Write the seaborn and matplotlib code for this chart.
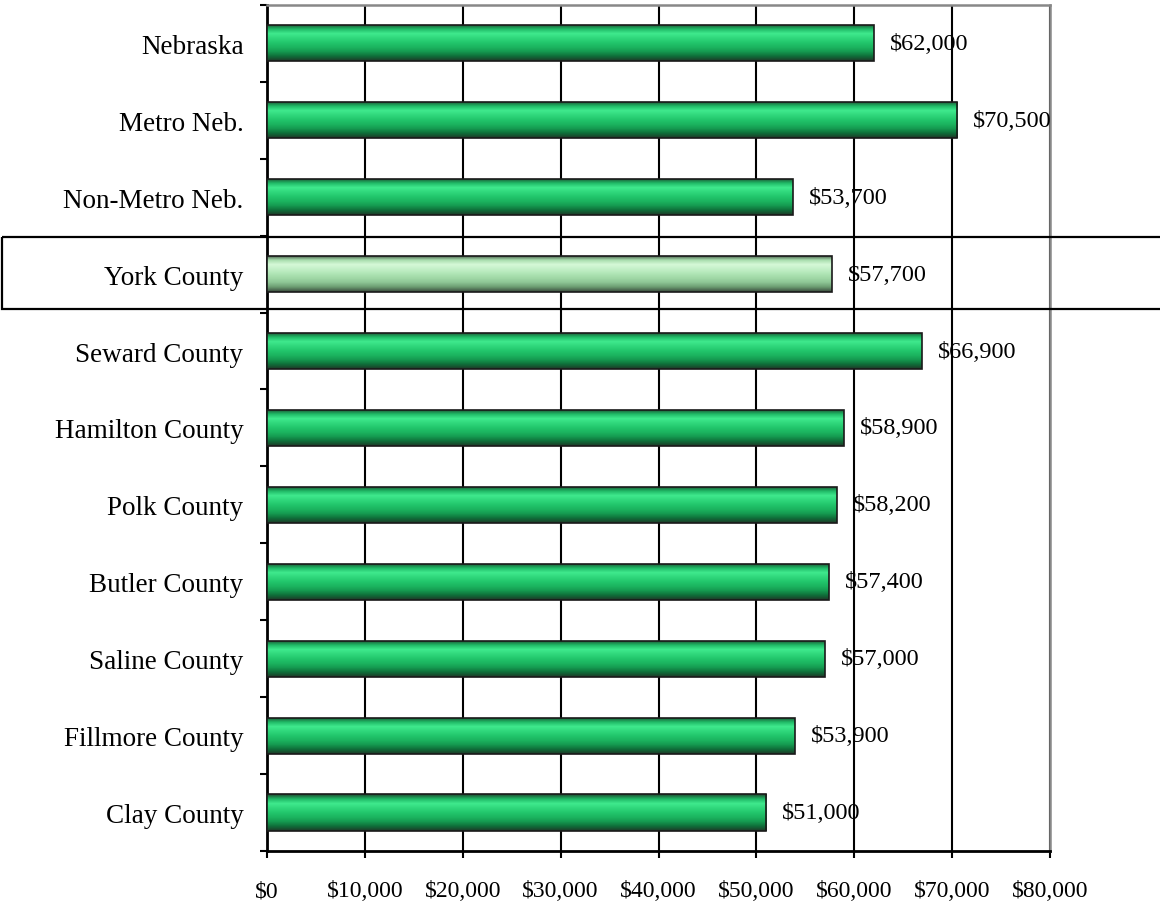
import numpy as np
import pandas as pd
import matplotlib
matplotlib.use("Agg")
import matplotlib.pyplot as plt
import matplotlib.transforms as mtransforms
from matplotlib.colors import LinearSegmentedColormap
from matplotlib.patches import Rectangle
import seaborn as sns

# -------------------------------
# Data
# -------------------------------
regions = ["Nebraska", "Metro Neb.", "Non-Metro Neb.", "York County",
           "Seward County", "Hamilton County", "Polk County", "Butler County",
           "Saline County", "Fillmore County", "Clay County"]
income = [62000, 70500, 53700, 57700, 66900, 58900, 58200, 57400,
          57000, 53900, 51000]
highlight = "York County"
x_ticks = [0, 10000, 20000, 30000, 40000, 50000, 60000, 70000, 80000]

df = pd.DataFrame({"Region": regions, "Income": income})

# -------------------------------
# Style
# -------------------------------
sns.set_style("white")
plt.rcParams["font.family"] = ["Liberation Serif", "DejaVu Serif"]
plt.rcParams["text.color"] = "black"
plt.rcParams["xtick.color"] = "black"
plt.rcParams["ytick.color"] = "black"

fig = plt.figure(figsize=(11.6, 9.04), dpi=100)
ax = fig.add_axes([0.2302, 0.0575, 0.675, 0.936])

sns.barplot(data=df, x="Income", y="Region", orient="h", width=0.47,
            color="#1fc068", ax=ax, zorder=2)

ax.set_xlim(0, 80000)
ax.set_ylim(len(regions) - 0.5, -0.5)

# glossy gradient for each bar
green = LinearSegmentedColormap.from_list(
    "g", ["#1e4a30", "#1fb865", "#40ea8e", "#30d87c", "#22c66c",
          "#1cb560", "#159a50", "#0f6f3a", "#1e3a28"])
light = LinearSegmentedColormap.from_list(
    "l", ["#3a4a3c", "#a6dcac", "#d6f9d8", "#c4f0c8", "#b0e6b6",
          "#a0d8a6", "#8cc494", "#6a9a70", "#3a4a3c"])
grad = np.linspace(0, 1, 64).reshape(-1, 1)
for patch, name in zip(ax.patches, regions):
    x0, y0 = patch.get_x(), patch.get_y()
    w, h = patch.get_width(), patch.get_height()
    cmap = light if name == highlight else green
    im = ax.imshow(grad, cmap=cmap, aspect="auto", extent=(x0, x0 + w, y0 + h, y0),
                   origin="upper", zorder=3, interpolation="bilinear")
    im.set_clip_path(patch)
    patch.set_facecolor("none")
    patch.set_edgecolor("#1a1a1a")
    patch.set_linewidth(1.2)
    patch.set_zorder(4)

ax.set_xlim(0, 80000)
ax.set_ylim(len(regions) - 0.5, -0.5)

# value labels
for i, v in enumerate(income):
    ax.text(v + 1650, i, f"${v:,}", va="center", ha="left", fontsize=17.5,
            color="black", zorder=5)

# -------------------------------
# Axes, grid, ticks
# -------------------------------
ax.set_xticks(x_ticks)
ax.set_xticklabels([f"${t:,}" for t in x_ticks])
ax.xaxis.grid(True, color="black", linewidth=1.5, zorder=0)
ax.set_axisbelow(True)
ax.set_xlabel("")
ax.set_ylabel("")

ax.set_yticks(np.arange(-0.5, len(regions) + 0.5, 1), minor=True)
ax.tick_params(axis="y", which="major", length=0, pad=17, labelsize=19.5)
ax.tick_params(axis="y", which="minor", length=5, width=1.5, color="black",
               direction="out", left=True)
ax.tick_params(axis="x", which="major", length=5, width=1.5, color="black",
               direction="out", bottom=True, pad=16, labelsize=17)

for side in ["left", "bottom"]:
    ax.spines[side].set_color("black")
    ax.spines[side].set_linewidth(2)
for side in ["top", "right"]:
    ax.spines[side].set_color("#888888")
    ax.spines[side].set_linewidth(1.8)

# highlight box around York County row
idx = regions.index(highlight)
trans = mtransforms.blended_transform_factory(fig.transFigure, ax.transData)
box = Rectangle((0.002, idx - 0.48), 1.2, 0.94, transform=trans, fill=False,
                edgecolor="black", linewidth=1.6, clip_on=False, zorder=6)
ax.add_patch(box)

fig.savefig("out.png", dpi=100)
